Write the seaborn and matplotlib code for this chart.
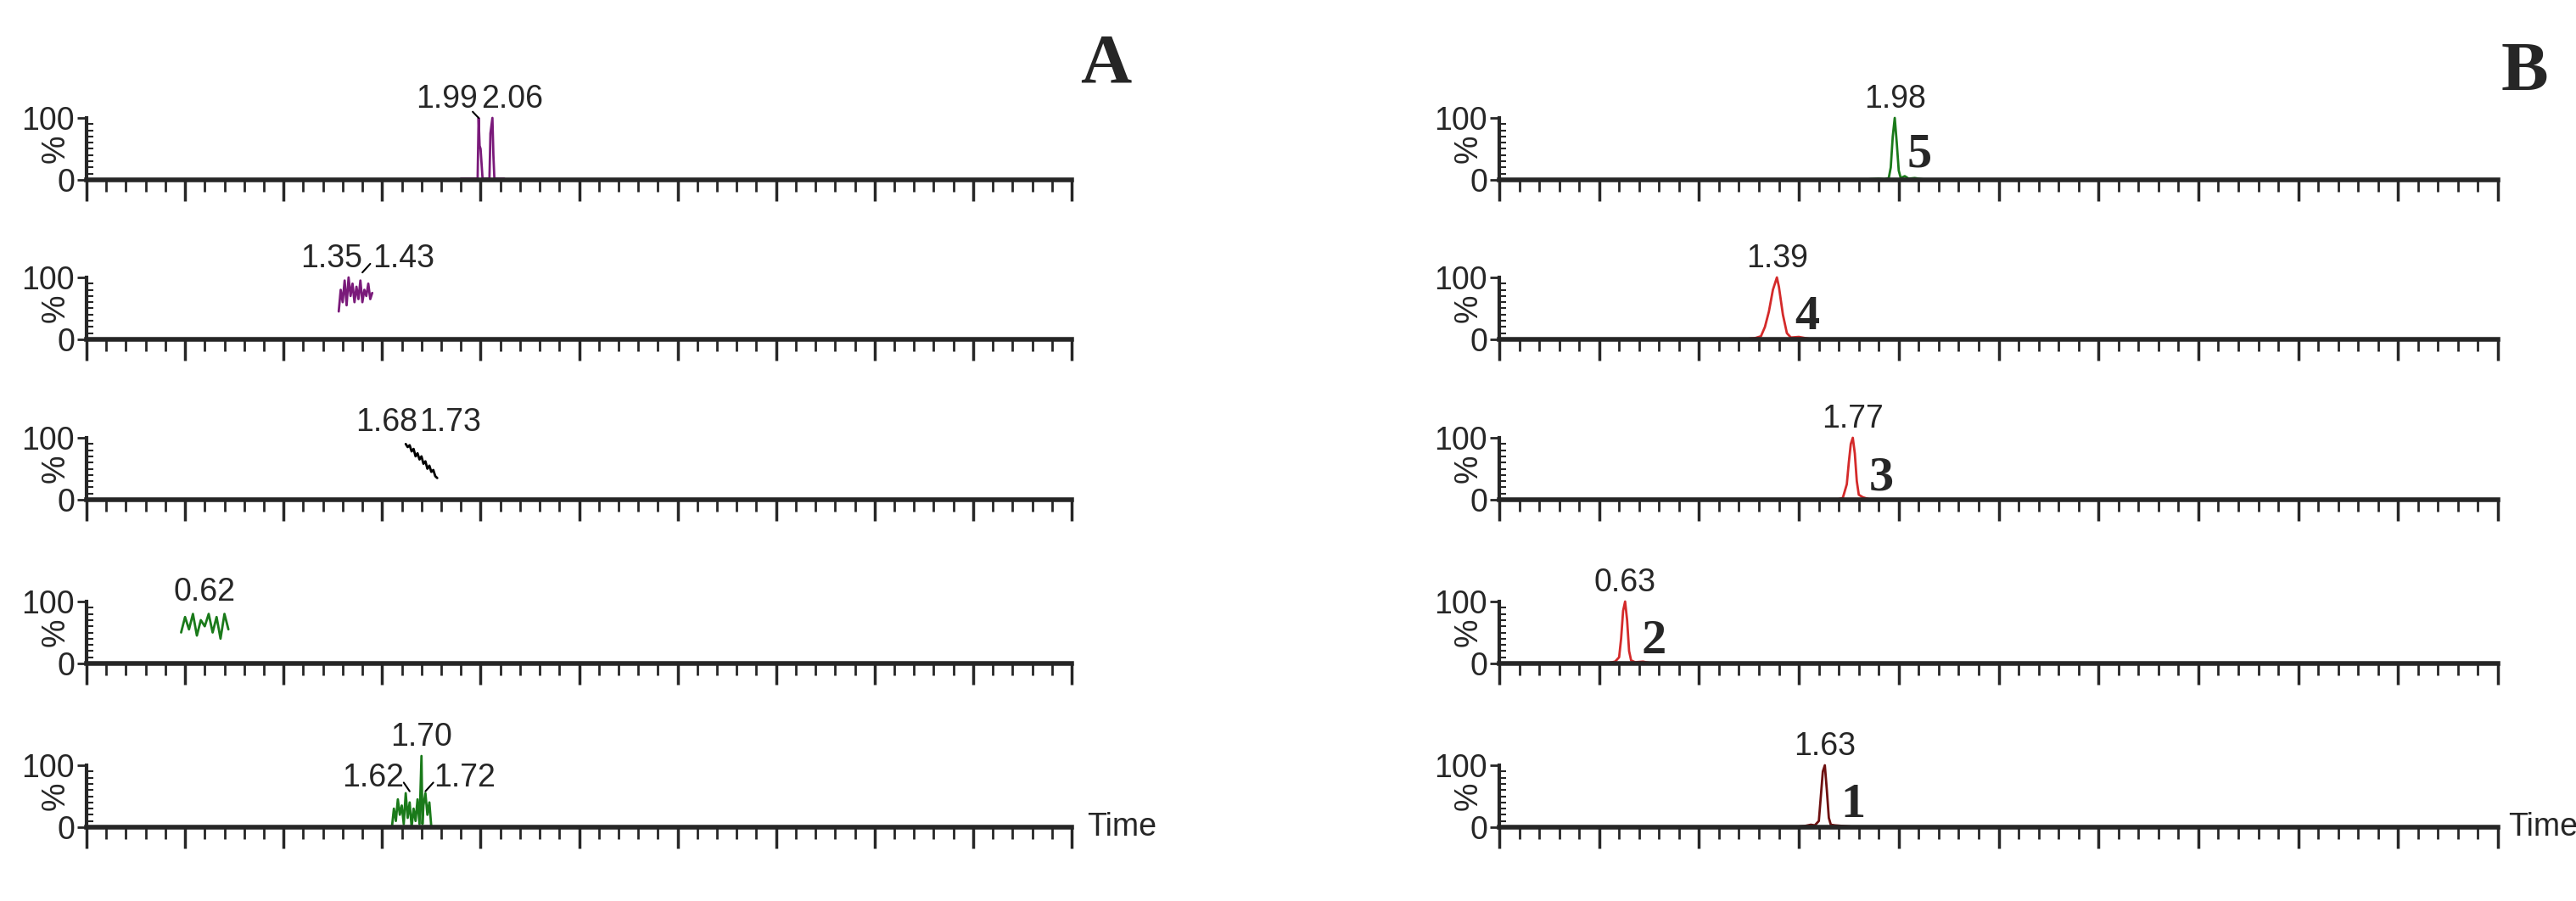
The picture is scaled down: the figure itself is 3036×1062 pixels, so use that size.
import numpy as np
import pandas as pd
import matplotlib
matplotlib.use("Agg")
import matplotlib.pyplot as plt
import seaborn as sns
from matplotlib.ticker import MultipleLocator

sns.set_style("white")
plt.rcParams['font.family'] = ['Liberation Sans', 'DejaVu Sans']

# ---------- data (time in min, intensity in %) ----------
a1_t = [1.90, 1.97, 1.985, 1.99, 1.995, 2.00, 2.01, 2.03, 2.045, 2.05, 2.06, 2.065, 2.07, 2.08, 2.12]
a1_y = [2, 2, 2, 100, 55, 50, 2, 2, 2, 75, 100, 40, 2, 2, 2]
a2_t = [1.28, 1.29, 1.30, 1.31, 1.32, 1.33, 1.34, 1.35, 1.36, 1.37, 1.38, 1.39, 1.40, 1.41, 1.42, 1.43, 1.44, 1.45]
a2_y = [45, 80, 60, 95, 55, 100, 70, 90, 60, 85, 65, 95, 60, 80, 70, 90, 65, 75]
a3_t = [1.62, 1.63, 1.64, 1.65, 1.66, 1.67, 1.68, 1.69, 1.70, 1.71, 1.72, 1.73, 1.74, 1.75, 1.76, 1.77, 1.78]
a3_y = [90, 85, 88, 78, 82, 70, 75, 65, 70, 58, 62, 50, 55, 45, 48, 38, 35]
a4_t = [0.48, 0.50, 0.52, 0.54, 0.56, 0.58, 0.60, 0.62, 0.64, 0.66, 0.68, 0.70, 0.72]
a4_y = [50, 75, 55, 80, 45, 70, 60, 80, 50, 75, 40, 80, 55]
a5_t = [1.55, 1.56, 1.57, 1.58, 1.59, 1.60, 1.61, 1.62, 1.63, 1.64, 1.65, 1.66, 1.67, 1.68, 1.69, 1.70, 1.705, 1.71, 1.72, 1.73, 1.74, 1.75]
a5_y = [0, 30, 10, 45, 20, 35, 5, 55, 15, 40, 0, 30, 10, 45, 5, 115, 5, 35, 55, 20, 40, 0]

b1_t = [1.85, 1.90, 1.93, 1.95, 1.96, 1.97, 1.98, 1.99, 2.00, 2.01, 2.03, 2.05, 2.08, 2.12]
b1_y = [1, 2, 1, 3, 20, 70, 100, 60, 15, 3, 6, 2, 3, 1]
b2_t = [1.25, 1.28, 1.31, 1.33, 1.35, 1.37, 1.39, 1.40, 1.42, 1.44, 1.46, 1.50, 1.55]
b2_y = [1, 2, 5, 20, 45, 80, 100, 85, 40, 10, 3, 4, 1]
b3_t = [1.70, 1.72, 1.74, 1.75, 1.76, 1.77, 1.78, 1.79, 1.80, 1.82, 1.85]
b3_y = [1, 3, 25, 60, 90, 100, 75, 30, 8, 4, 1]
b4_t = [0.55, 0.58, 0.60, 0.61, 0.62, 0.63, 0.64, 0.65, 0.66, 0.68, 0.72, 0.75]
b4_y = [1, 3, 10, 40, 85, 100, 70, 20, 5, 2, 3, 1]
b5_t = [1.50, 1.53, 1.56, 1.58, 1.60, 1.61, 1.62, 1.63, 1.64, 1.65, 1.66, 1.68, 1.72, 1.76]
b5_y = [1, 2, 4, 3, 10, 50, 90, 100, 60, 15, 4, 3, 2, 1]

purple = "#7a1a7a"
green = "#1a7a1a"
red = "#d42a2a"
darkred = "#6e1010"

W, H = 3036, 1062
fig = plt.figure(figsize=(W / 100, H / 100), dpi=100)

rows_y = [212, 400, 589, 782, 975]   # baseline pixel (from top)
ax_h = 73
left_x = (102, 1263)
right_x = (1767, 2944)
FS = 27


def make_ax(x0x1, base):
    x0, x1 = x0x1
    ax = fig.add_axes([x0 / W, 1 - base / H, (x1 - x0) / W, ax_h / H])
    ax.set_xlim(0, 5)
    ax.set_ylim(0, 100)
    for s in ("top", "right"):
        ax.spines[s].set_visible(False)
    ax.spines["left"].set_linewidth(3)
    ax.spines["bottom"].set_linewidth(4)
    ax.xaxis.set_major_locator(MultipleLocator(0.5))
    ax.xaxis.set_minor_locator(MultipleLocator(0.1))
    ax.set_yticks([0, 100])
    ax.set_yticks(list(range(10, 100, 10)), minor=True)
    ax.tick_params(axis="x", which="major", direction="out", length=18, width=2.5, labelbottom=False, bottom=True)
    ax.tick_params(axis="x", which="minor", direction="out", length=10, width=2, bottom=True)
    ax.tick_params(axis="y", which="major", direction="out", length=8, width=2, labelsize=FS, pad=2, left=True)
    ax.tick_params(axis="y", which="minor", direction="in", length=6, width=1.5, left=True)
    ax.set_yticklabels(["0", "100"])
    ax.patch.set_alpha(0)
    return ax


def trace(ax, t, y, color):
    df = pd.DataFrame({"t": t, "y": y})
    sns.lineplot(data=df, x="t", y="y", ax=ax, color=color, lw=2, estimator=None, sort=False)
    ax.lines[-1].set_clip_on(False)
    ax.set_xlabel("")
    ax.set_ylabel("%", fontsize=FS)
    ax.yaxis.set_label_coords(-0.016, 0.5)


def lab(ax, x, y, s, ha="center"):
    ax.text(x, y, s, fontsize=FS, ha=ha, va="bottom", clip_on=False)


def num(ax, x, y, s):
    ax.text(x, y, s, fontsize=42, fontweight="bold", family="Liberation Serif", ha="left", va="center")


# Panel A
ax = make_ax(left_x, rows_y[0]); trace(ax, a1_t, a1_y, purple)
lab(ax, 1.985, 105, "1.99", ha="right"); lab(ax, 2.005, 105, "2.06", ha="left")
ax.plot([1.96, 1.99], [110, 100], color="k", lw=1.5, clip_on=False)
ax = make_ax(left_x, rows_y[1]); trace(ax, a2_t, a2_y, purple)
lab(ax, 1.40, 105, "1.35", ha="right"); lab(ax, 1.45, 105, "1.43", ha="left")
ax.plot([1.40, 1.44], [108, 122], color="k", lw=1.5, clip_on=False)
ax = make_ax(left_x, rows_y[2]); trace(ax, a3_t, a3_y, "black")
lab(ax, 1.68, 100, "1.68", ha="right"); lab(ax, 1.69, 100, "1.73", ha="left")
ax = make_ax(left_x, rows_y[3]); trace(ax, a4_t, a4_y, green)
lab(ax, 0.60, 90, "0.62")
ax = make_ax(left_x, rows_y[4]); trace(ax, a5_t, a5_y, green)
lab(ax, 1.70, 120, "1.70")
lab(ax, 1.61, 55, "1.62", ha="right"); lab(ax, 1.76, 55, "1.72", ha="left")
ax.plot([1.61, 1.64], [72, 58], color="k", lw=1.5, clip_on=False)
ax.plot([1.72, 1.76], [58, 72], color="k", lw=1.5, clip_on=False)
ax.text(5.08, 0, "Time", fontsize=FS, ha="left", va="center")

# Panel B
ax = make_ax(right_x, rows_y[0]); trace(ax, b1_t, b1_y, green)
lab(ax, 1.98, 105, "1.98"); num(ax, 2.04, 40, "5")
ax = make_ax(right_x, rows_y[1]); trace(ax, b2_t, b2_y, red)
lab(ax, 1.39, 105, "1.39"); num(ax, 1.48, 35, "4")
ax = make_ax(right_x, rows_y[2]); trace(ax, b3_t, b3_y, red)
lab(ax, 1.77, 105, "1.77"); num(ax, 1.85, 35, "3")
ax = make_ax(right_x, rows_y[3]); trace(ax, b4_t, b4_y, red)
lab(ax, 0.63, 105, "0.63"); num(ax, 0.71, 35, "2")
ax = make_ax(right_x, rows_y[4]); trace(ax, b5_t, b5_y, darkred)
lab(ax, 1.63, 105, "1.63"); num(ax, 1.71, 35, "1")
ax.text(5.05, 0, "Time", fontsize=FS, ha="left", va="center")

fig.text(1303 / W, 1 - 77 / H, "A", fontsize=60, fontweight="bold", family="Liberation Serif", ha="center", va="center")
fig.text(2975 / W, 1 - 87 / H, "B", fontsize=60, fontweight="bold", family="Liberation Serif", ha="center", va="center")

fig.savefig("out.png", dpi=100, facecolor="white")
